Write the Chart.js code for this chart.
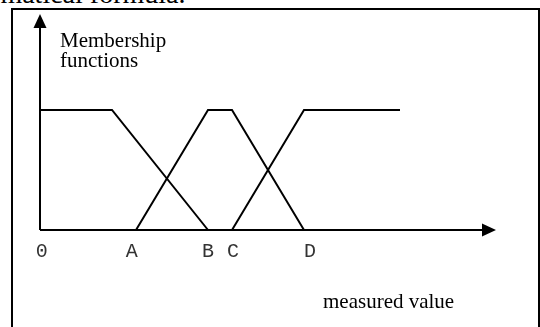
<!DOCTYPE html>
<html>
<head>
<meta charset="utf-8">
<script src="https://cdn.jsdelivr.net/npm/chart.js@4/dist/chart.umd.min.js"></script>
<style>
  html, body { margin: 0; padding: 0; background: #fff; overflow: hidden; }
  #page { position: relative; width: 540px; height: 327px; overflow: hidden; }
  #prev { position: absolute; left: -68px; top: -20px; font: 28px/28px "Liberation Serif", "Times New Roman", serif; color: #000; white-space: nowrap; }
  #frame { position: absolute; left: 11px; top: 8px; width: 525px; height: 400px; border: 2px solid #000; }
  #chart { position: absolute; left: 0; top: 0; }
</style>
</head>
<body>
<div id="page">
  <div id="prev">mathematical formula.</div>
  <div id="frame"></div>
  <canvas id="chart" width="540" height="327"></canvas>
</div>
<script>
// membership functions (x in units of the measured value, y = degree of membership)
const leftX = [0, 3, 7];
const leftY = [1, 1, 0];
const midX = [4, 7, 8, 11];
const midY = [0, 1, 1, 0];
const rightX = [8, 11, 15];
const rightY = [0, 1, 1];

const tickLabels = ["0", "A", "B", "C", "D"];
const tickPositions = [0.07, 3.82, 7, 8.04, 11.25];
const yTitle = ["Membership", "functions"];
const xTitle = "measured value";
const xMax = 19;
const yMax = 1.8;

function toPoints(xs, ys) {
  return xs.map(function (x, i) { return { x: x, y: ys[i] }; });
}

function lineSet(xs, ys) {
  return {
    data: toPoints(xs, ys),
    showLine: true,
    borderColor: "#000",
    borderWidth: 2,
    pointRadius: 0,
    fill: false,
    clip: false,
  };
}

// axes with arrow heads, tick letters and the two captions
const axesPlugin = {
  id: "axesPlugin",
  afterDatasetsDraw(chart) {
    const ctx = chart.ctx;
    const xs = chart.scales.x;
    const ys = chart.scales.y;
    const x0 = xs.getPixelForValue(0);
    const y0 = ys.getPixelForValue(0);
    const yTop = ys.getPixelForValue(yMax);
    const xEnd = xs.getPixelForValue(xMax);

    ctx.save();
    ctx.strokeStyle = "#000";
    ctx.fillStyle = "#000";
    ctx.lineWidth = 2;
    ctx.beginPath();
    ctx.moveTo(x0, y0);
    ctx.lineTo(x0, yTop + 12);
    ctx.moveTo(x0, y0);
    ctx.lineTo(xEnd - 12, y0);
    ctx.stroke();

    ctx.beginPath();
    ctx.moveTo(x0, yTop);
    ctx.lineTo(x0 - 6.5, yTop + 14);
    ctx.lineTo(x0 + 6.5, yTop + 14);
    ctx.closePath();
    ctx.fill();

    ctx.beginPath();
    ctx.moveTo(xEnd, y0);
    ctx.lineTo(xEnd - 14, y0 - 6.5);
    ctx.lineTo(xEnd - 14, y0 + 6.5);
    ctx.closePath();
    ctx.fill();

    ctx.fillStyle = "#333";
    ctx.font = '20px "Liberation Mono", "Courier New", monospace';
    ctx.textAlign = "center";
    ctx.textBaseline = "middle";
    tickPositions.forEach(function (v, i) {
      ctx.fillText(tickLabels[i], xs.getPixelForValue(v), y0 + 22);
    });

    ctx.fillStyle = "#000";
    ctx.font = '21px "Liberation Serif", "Times New Roman", serif';
    ctx.textAlign = "left";
    ctx.textBaseline = "alphabetic";
    ctx.fillText(yTitle[0], x0 + 20, yTop + 33);
    ctx.fillText(yTitle[1], x0 + 20, yTop + 53);
    ctx.fillText(xTitle, 323, 308);
    ctx.restore();
  },
};

document.addEventListener("DOMContentLoaded", function () {
  const ctx = document.getElementById("chart").getContext("2d");
  new Chart(ctx, {
    type: "scatter",
    data: {
      datasets: [
        lineSet(leftX, leftY),
        lineSet(midX, midY),
        lineSet(rightX, rightY),
      ],
    },
    options: {
      responsive: false,
      animation: false,
      layout: {
        padding: { left: 40, right: 44, top: 14, bottom: 97 },
      },
      plugins: {
        legend: { display: false },
        tooltip: { enabled: false },
      },
      scales: {
        x: { type: "linear", min: 0, max: xMax, display: false },
        y: { type: "linear", min: 0, max: yMax, display: false },
      },
    },
    plugins: [axesPlugin],
  });
});
</script>
</body>
</html>
